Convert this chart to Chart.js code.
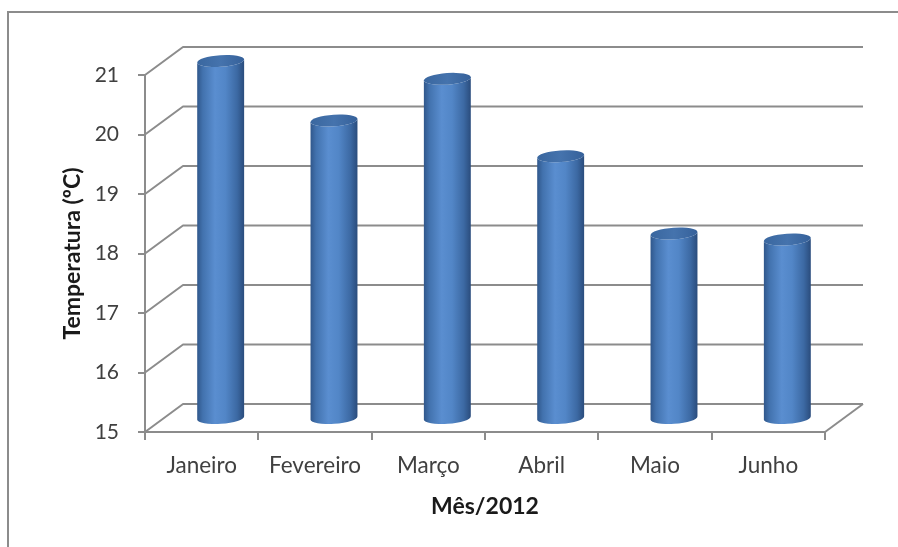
<!DOCTYPE html>
<html>
<head>
<meta charset="utf-8">
<script src="https://cdn.jsdelivr.net/npm/chart.js@4/dist/chart.umd.min.js"></script>
<style>
  html, body { margin: 0; padding: 0; background: #fff; }
  canvas { display: block; }
</style>
</head>
<body>
<canvas id="tempChart" width="898" height="547"></canvas>
<script>
const months       = ['Janeiro', 'Fevereiro', 'Março', 'Abril', 'Maio', 'Junho'];
const temperatures = [21.0, 20.0, 20.7, 19.4, 18.1, 18.0];
const yMin = 15, yMax = 21, yStep = 1;
const yTitle = 'Temperatura (ºC)';
const xTitle = 'Mês/2012';

const FONT   = 'Lato, "Open Sans", sans-serif';
const GRID   = '#8c8c8c';
const DEPTH  = { x: 38, y: -28 };   // offset from front plane to back wall

// back wall, floor and outer frame behind the cylinders, cylinders on top
const frame3d = {
  id: 'frame3d',
  beforeDraw(chart) {
    const { ctx } = chart;
    ctx.save();
    ctx.fillStyle = '#fff';
    ctx.fillRect(0, 0, chart.width, chart.height);
    ctx.strokeStyle = GRID;
    ctx.lineWidth = 2;
    ctx.strokeRect(8, 12, chart.width + 20, chart.height + 20);
    ctx.restore();
  },
  beforeDatasetsDraw(chart) {
    const { ctx, chartArea: a, scales: { y } } = chart;
    ctx.save();
    ctx.strokeStyle = GRID;
    ctx.lineWidth = 2;
    ctx.lineJoin = 'round';
    y.ticks.forEach(t => {
      const py = y.getPixelForValue(t.value);
      ctx.beginPath();
      ctx.moveTo(a.left, py);
      ctx.lineTo(a.left + DEPTH.x, py + DEPTH.y);
      ctx.lineTo(a.right + DEPTH.x, py + DEPTH.y);
      ctx.stroke();
    });
    const base = y.getPixelForValue(yMin);
    ctx.beginPath();
    ctx.moveTo(a.right, base);
    ctx.lineTo(a.right + DEPTH.x, base + DEPTH.y);
    ctx.stroke();
    ctx.restore();
  },
  afterDatasetsDraw(chart) {
    const { ctx, scales: { y } } = chart;
    const meta = chart.getDatasetMeta(0);
    const tilt = -0.07;
    const floor = y.getPixelForValue(yMin);
    meta.data.forEach(bar => {
      const cx  = bar.x + DEPTH.x / 2;
      const top = bar.y + DEPTH.y / 2;
      const bot = floor + DEPTH.y / 2;
      const r   = bar.width / 2;
      const ry  = 5.8;
      const sx = r * Math.cos(tilt), sy = r * Math.sin(tilt);

      const body = ctx.createLinearGradient(cx - r, 0, cx + r, 0);
      body.addColorStop(0.00, '#30578b');
      body.addColorStop(0.12, '#4272ae');
      body.addColorStop(0.38, '#5a8ed0');
      body.addColorStop(0.60, '#5286c7');
      body.addColorStop(0.85, '#3c69a3');
      body.addColorStop(1.00, '#2a4c7c');

      ctx.save();
      ctx.beginPath();
      ctx.moveTo(cx - sx, top - sy);
      ctx.lineTo(cx - sx, bot - sy);
      ctx.ellipse(cx, bot, r, ry, tilt, Math.PI, 0, true);
      ctx.lineTo(cx + sx, top + sy);
      ctx.ellipse(cx, top, r, ry, tilt, 0, Math.PI, false);
      ctx.closePath();
      ctx.fillStyle = body;
      ctx.fill();

      const cap = ctx.createLinearGradient(cx - r, top, cx + r, top);
      cap.addColorStop(0, '#3a679f');
      cap.addColorStop(0.5, '#4573ad');
      cap.addColorStop(1, '#36619a');
      ctx.beginPath();
      ctx.ellipse(cx, top, r, ry, tilt, 0, Math.PI * 2);
      ctx.fillStyle = cap;
      ctx.fill();
      ctx.restore();
    });
  }
};

new Chart(document.getElementById('tempChart'), {
  type: 'bar',
  data: {
    labels: months,
    datasets: [{
      data: temperatures,
      backgroundColor: 'rgba(0,0,0,0)',
      borderWidth: 0,
      categoryPercentage: 1,
      barPercentage: 0.415
    }]
  },
  options: {
    responsive: false,
    animation: false,
    layout: { padding: { left: 0, right: 73, top: 75, bottom: 0 } },
    plugins: { legend: { display: false }, tooltip: { enabled: false } },
    scales: {
      x: {
        ticks: { color: '#404040', font: { family: FONT, size: 22.5 }, padding: 12 },
        grid: { drawOnChartArea: false, tickLength: 8, color: GRID, lineWidth: 2, offset: true },
        border: { color: GRID, width: 2 },
        title: {
          display: true, text: xTitle, color: '#1a1a1a',
          font: { family: FONT, size: 23, weight: 'bold' },
          padding: { top: 0, bottom: 27 }
        },
        afterFit: s => { s.height = 115; }
      },
      y: {
        min: yMin, max: yMax,
        ticks: { stepSize: yStep, color: '#404040', font: { family: FONT, size: 21 }, padding: 19 },
        grid: { drawOnChartArea: false, tickLength: 7, color: GRID, lineWidth: 2 },
        border: { color: GRID, width: 2 },
        title: {
          display: true, text: yTitle, color: '#1a1a1a',
          font: { family: FONT, size: 23, weight: 'bold' },
          padding: { top: 59, bottom: 0 }
        },
        afterFit: s => { s.width = 145; }
      }
    }
  },
  plugins: [frame3d]
});
</script>
</body>
</html>
